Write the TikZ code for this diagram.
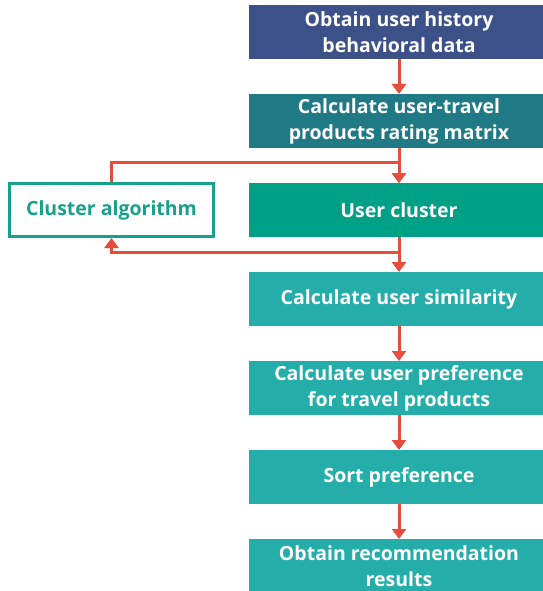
\documentclass[tikz,border=0pt]{standalone}
\usepackage{fontspec}
\setmainfont{Open Sans}
\usetikzlibrary{positioning,arrows.meta}

\definecolor{collectblue}{RGB}{61,81,137}
\definecolor{matrixteal}{RGB}{31,122,133}
\definecolor{clustergreen}{RGB}{0,160,134}
\definecolor{stepteal}{RGB}{37,174,169}
\definecolor{algoline}{RGB}{23,160,138}
\definecolor{linkred}{RGB}{231,76,60}

\begin{document}
\begin{tikzpicture}[
    x=1pt,y=-1pt,
    >={Triangle[width=14pt,length=10pt]},
    node distance=34.6pt,
    every node/.style={font=\fontsize{19.5}{26}\selectfont\bfseries},
    flowbox/.style={minimum width=300pt,minimum height=54pt,inner sep=0pt,align=center,text=white},
    link/.style={draw=linkred,line width=3pt}
]
\useasboundingbox (0,0) rectangle (542,591);

\node[flowbox,fill=collectblue,anchor=north] (history) at (399,5) {Obtain user history\\behavioral data};
\node[flowbox,fill=matrixteal,below=of history] (matrix) {Calculate user-travel\\products rating matrix};
\node[flowbox,fill=clustergreen,below=of matrix] (cluster) {User cluster};
\node[flowbox,fill=stepteal,below=of cluster] (similar) {Calculate user similarity};
\node[flowbox,fill=stepteal,below=of similar] (prefer) {Calculate user preference\\for travel products};
\node[flowbox,fill=stepteal,below=of prefer] (sorting) {Sort preference};
\node[flowbox,fill=stepteal,below=of sorting] (result) {Obtain recommendation\\results};

\node[draw=algoline,line width=3pt,minimum width=204pt,minimum height=53pt,inner sep=0pt,text=algoline] (algo) at (111.5,210) {Cluster algorithm};

% loop through the cluster algorithm
\coordinate (upjoin) at (399,162);
\coordinate (downjoin) at (399,252);

\draw[link,->] (history) -- (matrix);
\draw[link,->] (matrix) -- (cluster);
\draw[link,->] (algo.north) |- (upjoin) -- (cluster.north);
\draw[link,->] (cluster) -- (similar);
\draw[link,->] (downjoin) -| (algo.south);
\draw[link,->] (similar) -- (prefer);
\draw[link,->] (prefer) -- (sorting);
\draw[link,->] (sorting) -- (result);
\end{tikzpicture}
\end{document}
